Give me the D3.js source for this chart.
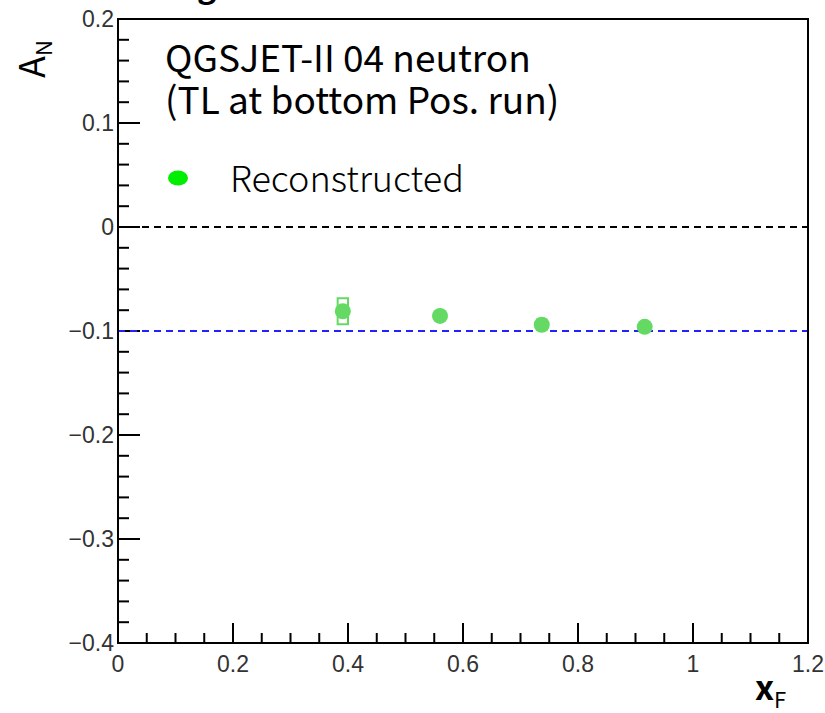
<!DOCTYPE html>
<html>
<head>
<meta charset="utf-8">
<script src="https://cdn.jsdelivr.net/npm/d3@7"></script>
<style>
  body { margin: 0; background: #fff; }
  svg { display: block; }
</style>
</head>
<body>
<div id="chart"></div>
<script>
// data
var xF = [0.391, 0.560, 0.737, 0.916]
var aN = [-0.081, -0.0855, -0.094, -0.096]
var sysX = [0.009, 0.008, 0.008, 0.008]
var sysY = [0.0125, 0.004, 0.005, 0.004]
var xTicks = [0, 0.2, 0.4, 0.6, 0.8, 1, 1.2]
var yTicks = [-0.4, -0.3, -0.2, -0.1, 0, 0.1, 0.2]
var refLines = [0, -0.1]
var refColors = ['#000', '#2222ff']

var W = 825, H = 713
var margin = { top: 19, left: 118, right: 17, bottom: 70 }
var width = W - margin.left - margin.right
var height = H - margin.top - margin.bottom

var svg = d3.select('#chart').append('svg')
  .attr('width', W).attr('height', H)

var g = svg.append('g')
  .attr('transform', `translate(${margin.left},${margin.top})`)

var x = d3.scaleLinear().domain([0, 1.2]).range([0, width])
var y = d3.scaleLinear().domain([-0.4, 0.2]).range([height, 0])

var labelFont = '"Liberation Sans", Arial, sans-serif'
var textFont = '"Noto Sans CJK KR", "Noto Sans", sans-serif'

// minor + major ticks (ROOT style, pointing inward)
var xMinor = d3.range(0, 1.2001, 0.05)
var yMinor = d3.range(-0.4, 0.2001, 0.02)

g.selectAll('.xminor').data(xMinor).enter().append('line')
  .attr('x1', d => x(d)).attr('x2', d => x(d))
  .attr('y1', height).attr('y2', height - 10)
  .attr('stroke', '#000').attr('stroke-width', 2)
g.selectAll('.xmajor').data(xTicks).enter().append('line')
  .attr('x1', d => x(d)).attr('x2', d => x(d))
  .attr('y1', height).attr('y2', height - 20)
  .attr('stroke', '#000').attr('stroke-width', 2)
g.selectAll('.yminor').data(yMinor).enter().append('line')
  .attr('x1', 0).attr('x2', 11)
  .attr('y1', d => y(d)).attr('y2', d => y(d))
  .attr('stroke', '#000').attr('stroke-width', 2)
g.selectAll('.ymajor').data(yTicks).enter().append('line')
  .attr('x1', 0).attr('x2', 22)
  .attr('y1', d => y(d)).attr('y2', d => y(d))
  .attr('stroke', '#000').attr('stroke-width', 2)

// tick labels
g.selectAll('.xlab').data(xTicks).enter().append('text')
  .attr('x', d => x(d)).attr('y', height + 29)
  .attr('text-anchor', 'middle')
  .style('font-family', labelFont).style('font-size', '23px')
  .attr('fill', '#333')
  .text(d => d3.format('')(d))
g.selectAll('.ylab').data(yTicks).enter().append('text')
  .attr('x', -4).attr('y', d => y(d) + 8)
  .attr('text-anchor', 'end')
  .style('font-family', labelFont).style('font-size', '23px')
  .attr('fill', '#333')
  .text(d => d3.format('')(d).replace('-', '\u2212'))

// reference dashed lines
g.selectAll('.ref').data(refLines).enter().append('line')
  .attr('x1', 0).attr('x2', width)
  .attr('y1', d => y(d)).attr('y2', d => y(d))
  .attr('stroke', (d, i) => refColors[i])
  .attr('stroke-width', 2)
  .attr('stroke-dasharray', '7,5')

// frame
g.append('rect')
  .attr('width', width).attr('height', height)
  .attr('fill', 'none').attr('stroke', '#000').attr('stroke-width', 2)

var pts = xF.map((d, i) => ({ x: d, y: aN[i], sx: sysX[i], sy: sysY[i] }))

// systematic boxes
g.selectAll('.sys').data(pts).enter().append('rect')
  .attr('x', d => x(d.x - d.sx)).attr('y', d => y(d.y + d.sy))
  .attr('width', d => x(d.x + d.sx) - x(d.x - d.sx))
  .attr('height', d => y(d.y - d.sy) - y(d.y + d.sy))
  .attr('fill', 'none').attr('stroke', '#64da64').attr('stroke-width', 2)

// points
g.selectAll('.pt').data(pts).enter().append('circle')
  .attr('cx', d => x(d.x)).attr('cy', d => y(d.y))
  .attr('r', 8)
  .attr('fill', '#64da64')

// legend / annotation
g.append('text')
  .attr('x', 165 - margin.left).attr('y', 72 - margin.top)
  .style('font-family', textFont).style('font-size', '37px')
  .text('QGSJET-II 04 neutron')
g.append('text')
  .attr('x', 165 - margin.left).attr('y', 114 - margin.top)
  .style('font-family', textFont).style('font-size', '37px')
  .text('(TL at bottom Pos. run)')
g.append('ellipse')
  .attr('cx', 178 - margin.left).attr('cy', 178 - margin.top)
  .attr('rx', 10).attr('ry', 7.5)
  .attr('fill', '#00ee00')
g.append('text')
  .attr('x', 230 - margin.left).attr('y', 192 - margin.top)
  .style('font-family', textFont).style('font-size', '36px').style('font-weight', 300)
  .text('Reconstructed')

// axis titles
var yt = svg.append('text')
  .attr('transform', 'translate(45,78) rotate(-90)')
  .style('font-family', textFont).style('font-size', '36px')
yt.append('tspan').text('A')
yt.append('tspan').attr('dy', 7).style('font-size', '22px').text('N')

var xt = svg.append('text')
  .attr('x', 755).attr('y', 700)
  .style('font-family', textFont).style('font-size', '34px').style('font-weight', 'bold')
xt.append('tspan').text('x')
xt.append('tspan').attr('dy', 8).style('font-size', '22px').style('font-weight', 'normal').text('F')

// clipped title remnant at very top
svg.append('text')
  .attr('x', 197).attr('y', -2)
  .style('font-family', textFont).style('font-size', '32px').style('font-weight', 'bold')
  .text('g')
</script>
</body>
</html>
